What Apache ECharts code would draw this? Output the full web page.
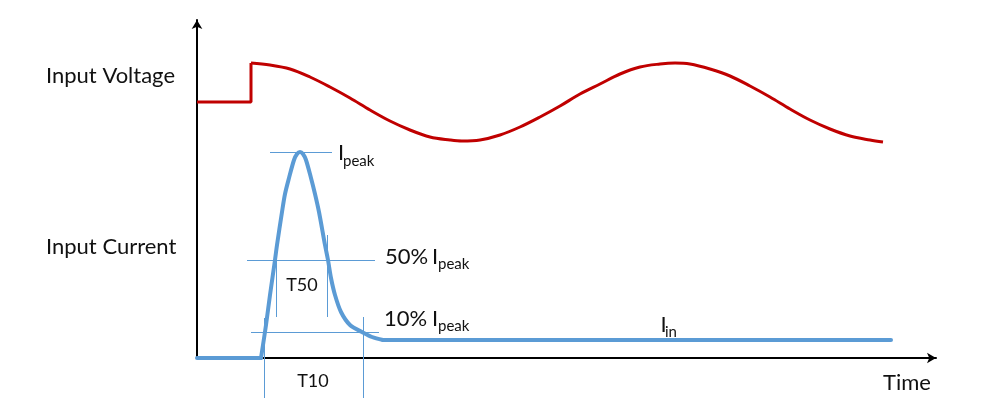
<!DOCTYPE html>
<html>
<head>
<meta charset="utf-8">
<script src="https://cdn.jsdelivr.net/npm/echarts@6/dist/echarts.min.js"></script>
<style>
html,body{margin:0;padding:0;background:#fff;}
#chart{width:990px;height:410px;}
</style>
</head>
<body>
<div id="chart"></div>
<script>
// Data (time units along x, arbitrary signal units along y)
const xMax = 739;
const yMax = 338;

// Input voltage: initial level, step, then oscillating part
const voltageStepX = [0, 54, 54];
const voltageStepY = [256, 256, 295];
const voltageX = [54,73,93,113,133,153,173,193,213,233,253,265,283,303,323,343,363,383,403,423,443,463,478,493,513,533,553,573,593,613,633,653,673,686];
const voltageY = [295,293,289,281,271,260,248,237,228,221,218,217,218,223,231,241,252,264,274,284,291,294,295,294,289,282,272,261,249,238,229,222,218,216];

// Input current: inrush pulse then steady Iin
const currentX = [0,64,66,69,73,78,80,85,88,92,97,100,103,106,109,114,118,122,128,131,134,138,144,153,165,175,186,694];
const currentY = [0,0,13,33,63,98,113,146,164,180,198,204,206,204,198,180,164,146,113,98,80,63,46,33,26,21,18,18];
const pulseStart = 1;   // index where the pulse begins
const pulseEnd = 26;    // index where the steady level begins

// Annotation segments (Ipeak, 50%, T50 left/right, 10%, T10 left/right)
const annoX1 = [73, 50, 79.5, 130.5, 54, 67.5, 166.5];
const annoY1 = [205.5, 97.5, 100, 123, 25.5, 40, 41];
const annoX2 = [135, 178, 79.5, 130.5, 182, 67.5, 166.5];
const annoY2 = [205.5, 97.5, 41, 41, 25.5, -40, -40];

const RED = '#C00000';
const BLUE = '#5B9BD5';
const FONT = 'Lato';

const zip = (xs, ys) => xs.map((x, i) => [x, ys[i]]);
const current = zip(currentX, currentY);

const annoSeries = annoX1.map((x1, i) => ({
  type: 'line',
  data: [[x1, annoY1[i]], [annoX2[i], annoY2[i]]],
  symbol: 'none',
  clip: false,
  silent: true,
  z: 3,
  lineStyle: { color: BLUE, width: 1 }
}));

function txt(text, x, y, size, align) {
  return {
    type: 'text',
    x: x, y: y,
    style: {
      text: text,
      fill: '#111',
      font: size + 'px ' + FONT,
      textAlign: align || 'left',
      textVerticalAlign: 'middle'
    }
  };
}

const curStyle = { color: BLUE, width: 4, join: 'round', cap: 'round' };

const chart = echarts.init(document.getElementById('chart'), null, { renderer: 'canvas' });
chart.setOption({
  animation: false,
  backgroundColor: '#fff',
  grid: { left: 197, right: 54, top: 20, bottom: 52, containLabel: false },
  xAxis: {
    type: 'value', min: 0, max: xMax,
    axisLine: { show: true, onZero: false, lineStyle: { color: '#000', width: 2 }, symbol: ['none', 'arrow'], symbolSize: [8, 9] },
    axisTick: { show: false }, axisLabel: { show: false }, splitLine: { show: false }
  },
  yAxis: {
    type: 'value', min: 0, max: yMax,
    axisLine: { show: true, onZero: false, lineStyle: { color: '#000', width: 2 }, symbol: ['none', 'arrow'], symbolSize: [8, 9] },
    axisTick: { show: false }, axisLabel: { show: false }, splitLine: { show: false }
  },
  series: [
    { type: 'line', data: zip(voltageStepX, voltageStepY), symbol: 'none', lineStyle: { color: RED, width: 3 }, z: 4 },
    { type: 'line', data: zip(voltageX, voltageY), symbol: 'none', smooth: 0.35, lineStyle: { color: RED, width: 3 }, z: 4 },
    { type: 'line', data: current.slice(0, pulseStart + 1), symbol: 'none', lineStyle: curStyle, z: 5 },
    { type: 'line', data: current.slice(pulseStart, pulseEnd + 1), symbol: 'none', smooth: 0.3, lineStyle: curStyle, z: 5 },
    { type: 'line', data: current.slice(pulseEnd), symbol: 'none', lineStyle: curStyle, z: 5 }
  ].concat(annoSeries),
  graphic: [
    txt('Input Voltage', 46, 76, 22),
    txt('Input Current', 46, 246.5, 22),
    txt('Time', 883, 383, 22),
    txt('T50', 302, 285, 18, 'center'),
    txt('T10', 313, 381.5, 18, 'center'),
    txt('I', 338, 152.5, 22),
    txt('peak', 343, 161, 15),
    txt('50%', 385, 257, 22),
    txt('I', 432, 257, 22),
    txt('peak', 438, 264.5, 15),
    txt('10%', 384, 318.5, 22),
    txt('I', 432, 318.5, 22),
    txt('peak', 438, 326, 15),
    txt('I', 660.5, 325, 22),
    txt('in', 665, 332, 15)
  ]
});
</script>
</body>
</html>
